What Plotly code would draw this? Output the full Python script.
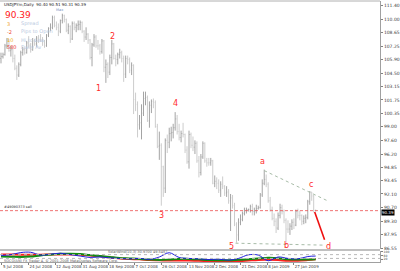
import plotly.graph_objects as go

# ---------------- data (USDJPYm, Daily) ----------------
dates = ["3 Jul", "4 Jul", "7 Jul", "8 Jul", "9 Jul", "10 Jul", "11 Jul", "14 Jul", "15 Jul", "16 Jul",
         "17 Jul", "18 Jul", "21 Jul", "22 Jul", "23 Jul", "24 Jul", "25 Jul", "28 Jul", "29 Jul", "30 Jul",
         "31 Jul", "1 Aug", "4 Aug", "5 Aug", "6 Aug", "7 Aug", "8 Aug", "11 Aug", "12 Aug", "13 Aug",
         "14 Aug", "15 Aug", "18 Aug", "19 Aug", "20 Aug", "21 Aug", "22 Aug", "25 Aug", "26 Aug", "27 Aug",
         "28 Aug", "29 Aug", "1 Sep", "2 Sep", "3 Sep", "4 Sep", "5 Sep", "8 Sep", "9 Sep", "10 Sep",
         "11 Sep", "12 Sep", "15 Sep", "16 Sep", "17 Sep", "18 Sep", "19 Sep", "22 Sep", "23 Sep", "24 Sep",
         "25 Sep", "26 Sep", "29 Sep", "30 Sep", "1 Oct", "2 Oct", "3 Oct", "6 Oct", "7 Oct", "8 Oct",
         "9 Oct", "10 Oct", "13 Oct", "14 Oct", "15 Oct", "16 Oct", "17 Oct", "20 Oct", "21 Oct", "22 Oct",
         "23 Oct", "24 Oct", "27 Oct", "28 Oct", "29 Oct", "30 Oct", "31 Oct", "3 Nov", "4 Nov", "5 Nov",
         "6 Nov", "7 Nov", "10 Nov", "11 Nov", "12 Nov", "13 Nov", "14 Nov", "17 Nov", "18 Nov", "19 Nov",
         "20 Nov", "21 Nov", "24 Nov", "25 Nov", "26 Nov", "27 Nov", "28 Nov", "1 Dec", "2 Dec", "3 Dec",
         "4 Dec", "5 Dec", "8 Dec", "9 Dec", "10 Dec", "11 Dec", "12 Dec", "15 Dec", "16 Dec", "17 Dec",
         "18 Dec", "19 Dec", "22 Dec", "23 Dec", "24 Dec", "25 Dec", "26 Dec", "29 Dec", "30 Dec", "31 Dec",
         "1 Jan", "2 Jan", "5 Jan", "6 Jan", "7 Jan", "8 Jan", "9 Jan", "12 Jan", "13 Jan", "14 Jan",
         "15 Jan", "16 Jan", "19 Jan", "20 Jan", "21 Jan", "22 Jan", "23 Jan", "26 Jan", "27 Jan", "28 Jan",
         "29 Jan", "30 Jan", "2 Feb", "3 Feb", "4 Feb", "5 Feb", "6 Feb", "9 Feb", "10 Feb", "11 Feb"]

opens = [106.0, 106.2, 106.4, 107.3, 107.9, 106.8, 106.9, 106.0, 105.0, 104.3,
         105.4, 106.6, 106.9, 106.6, 107.6, 107.4, 106.9, 107.8, 107.5, 108.1,
         108.0, 107.9, 107.7, 107.3, 108.4, 109.1, 109.2, 110.2, 109.4, 109.2,
         108.8, 109.9, 110.4, 110.0, 108.9, 109.3, 108.0, 109.6, 109.2, 109.4,
         109.5, 109.7, 108.8, 108.2, 108.5, 107.9, 106.1, 107.4, 108.2, 107.3,
         107.3, 106.7, 107.8, 105.1, 105.4, 104.6, 106.1, 107.5, 106.0, 105.9,
         106.4, 106.6, 106.0, 104.4, 106.0, 105.9, 104.8, 105.3, 101.8, 101.3,
         99.2, 99.4, 100.4, 101.9, 102.0, 99.6, 101.2, 101.6, 101.5, 99.0,
         97.0, 97.1, 94.9, 92.7, 97.6, 97.4, 98.3, 98.4, 98.9, 99.8,
         98.5, 97.9, 98.3, 98.2, 96.6, 95.4, 98.2, 97.1, 96.9, 97.3,
         95.5, 94.3, 95.9, 97.3, 95.5, 95.3, 95.3, 95.5, 93.2, 93.4,
         93.2, 92.5, 93.1, 92.9, 92.2, 92.3, 91.4, 91.7, 90.9, 89.0,
         87.9, 89.2, 89.5, 90.1, 90.4, 90.5, 90.5, 90.8, 90.3, 90.4,
         90.6, 90.7, 92.0, 93.2, 93.6, 93.1, 91.4, 90.5, 89.6, 89.3,
         88.6, 89.9, 90.7, 90.3, 89.4, 88.5, 88.5, 88.8, 89.2, 88.9,
         90.3, 89.9, 89.9, 89.3, 89.6, 89.7, 91.3, 92.3, 91.9, 90.40]

highs = [106.6, 106.6, 107.5, 108.1, 108.0, 107.3, 107.0, 106.4, 105.3, 105.6,
         106.8, 107.2, 107.1, 107.8, 108.3, 107.6, 108.1, 108.0, 108.3, 108.4,
         108.5, 108.2, 107.9, 108.5, 109.2, 109.6, 110.4, 110.4, 109.8, 109.6,
         110.0, 110.6, 110.5, 110.1, 109.6, 109.4, 109.8, 109.8, 109.6, 109.9,
         109.9, 109.8, 108.9, 109.2, 108.6, 108.0, 107.6, 108.5, 108.4, 107.9,
         107.5, 108.0, 107.9, 105.9, 105.6, 106.4, 107.9, 107.6, 106.4, 106.6,
         107.0, 106.8, 106.3, 106.3, 106.3, 106.1, 105.6, 105.4, 102.5, 101.6,
         100.2, 101.3, 102.6, 102.6, 102.2, 101.6, 101.8, 101.9, 101.7, 99.3,
         98.5, 97.3, 95.0, 97.8, 98.2, 98.9, 99.0, 99.3, 100.5, 100.2,
         99.3, 98.6, 99.4, 98.3, 97.0, 98.6, 98.4, 98.0, 97.6, 97.5,
         96.0, 96.2, 97.5, 97.4, 95.8, 95.8, 95.8, 95.6, 94.0, 93.8,
         93.6, 93.4, 93.9, 93.0, 92.9, 92.6, 92.1, 92.0, 91.2, 89.2,
         89.6, 90.0, 90.3, 90.7, 90.7, 90.6, 91.0, 91.1, 90.7, 91.0,
         90.9, 92.2, 93.6, 94.6, 94.1, 93.3, 91.8, 90.8, 90.1, 89.6,
         90.2, 91.1, 91.0, 90.5, 89.6, 89.4, 89.1, 89.5, 89.6, 90.5,
         90.6, 90.4, 90.0, 89.9, 90.0, 91.5, 92.4, 92.3, 92.0, 90.51]

lows = [105.5, 106.0, 106.3, 107.0, 106.7, 106.2, 105.6, 104.8, 103.8, 104.1,
        105.2, 106.3, 106.4, 106.5, 107.1, 106.6, 106.8, 107.3, 107.2, 107.6,
        107.7, 107.3, 107.1, 107.2, 108.2, 108.8, 109.0, 109.2, 108.9, 108.3,
        108.6, 109.6, 109.7, 108.7, 108.5, 107.6, 107.9, 108.9, 108.7, 108.9,
        108.9, 108.6, 107.7, 107.9, 107.5, 105.9, 105.2, 107.2, 107.1, 106.9,
        106.4, 106.5, 104.6, 103.5, 104.0, 104.3, 105.4, 105.9, 105.2, 105.4,
        106.0, 105.6, 103.6, 104.0, 105.4, 104.5, 104.3, 100.3, 100.6, 97.9,
        98.7, 97.7, 100.1, 101.2, 99.5, 98.9, 100.4, 100.9, 98.9, 96.8,
        95.6, 90.9, 91.8, 92.2, 96.3, 96.8, 97.5, 97.8, 98.6, 98.2,
        97.6, 97.4, 97.9, 96.3, 95.2, 94.7, 96.8, 96.5, 96.2, 95.3,
        93.8, 94.0, 95.7, 95.3, 94.9, 95.0, 95.0, 93.1, 92.8, 92.6,
        92.2, 91.8, 92.6, 91.9, 91.8, 91.1, 88.3, 90.6, 88.8, 87.1,
        87.3, 88.9, 89.3, 89.9, 90.1, 90.3, 90.2, 89.9, 89.9, 90.1,
        90.5, 90.6, 91.8, 93.0, 92.8, 91.2, 90.3, 89.4, 88.8, 88.1,
        88.4, 89.6, 90.0, 89.1, 87.1, 88.1, 87.9, 88.4, 88.5, 88.8,
        89.6, 89.4, 88.9, 89.0, 89.1, 89.5, 91.0, 91.4, 90.2, 90.31]

closes = [106.2, 106.4, 107.3, 107.9, 106.8, 106.9, 106.0, 105.0, 104.3, 105.4,
          106.6, 106.9, 106.6, 107.6, 107.4, 106.9, 107.8, 107.5, 108.1, 108.0,
          107.9, 107.7, 107.3, 108.4, 109.1, 109.2, 110.2, 109.4, 109.2, 108.8,
          109.9, 110.4, 110.0, 108.9, 109.3, 108.0, 109.6, 109.2, 109.4, 109.5,
          109.7, 108.8, 108.2, 108.5, 107.9, 106.1, 107.4, 108.2, 107.3, 107.3,
          106.7, 107.8, 105.1, 105.4, 104.6, 106.1, 107.5, 106.0, 105.9, 106.4,
          106.6, 106.0, 104.4, 106.0, 105.9, 104.8, 105.3, 101.8, 101.3, 99.2,
          99.4, 100.4, 101.9, 102.0, 99.6, 101.2, 101.6, 101.5, 99.0, 97.0,
          97.1, 94.9, 92.7, 97.6, 97.4, 98.3, 98.4, 98.9, 99.8, 98.5,
          97.9, 98.3, 98.2, 96.6, 95.4, 98.2, 97.1, 96.9, 97.3, 95.5,
          94.3, 95.9, 97.3, 95.5, 95.3, 95.3, 95.5, 93.2, 93.4, 93.2,
          92.5, 93.1, 92.9, 92.2, 92.3, 91.4, 91.7, 90.9, 89.0, 87.9,
          89.2, 89.5, 90.1, 90.4, 90.5, 90.5, 90.8, 90.3, 90.4, 90.6,
          90.7, 92.0, 93.2, 93.6, 93.1, 91.4, 90.5, 89.6, 89.3, 88.6,
          89.9, 90.7, 90.3, 89.4, 88.5, 88.5, 88.8, 89.2, 88.9, 90.3,
          89.9, 89.9, 89.3, 89.6, 89.7, 91.3, 92.3, 91.9, 90.40, 90.39]

current_price = 90.39

price_ticks = [111.40, 110.00, 108.65, 107.25, 105.90, 104.50, 103.15, 101.75, 100.35, 99.00,
               97.60, 96.20, 94.85, 93.45, 92.10, 90.70, 89.30, 87.95, 86.55]

date_labels = ["5 Jul 2008", "24 Jul 2008", "12 Aug 2008", "31 Aug 2008", "18 Sep 2008", "7 Oct 2008",
               "26 Oct 2008", "13 Nov 2008", "2 Dec 2008", "21 Dec 2008", "8 Jan 2009", "27 Jan 2009"]

# indicator (sub window), sampled every 5 bars
ind_bar = [0, 5, 10, 15, 20, 25, 30, 35, 40, 45, 50, 55, 60, 65, 70, 75, 80, 85, 90, 95,
           100, 105, 110, 115, 120, 125, 130, 135, 140, 145, 150, 155, 159]
ind_blue = [60, 70, 92, 95, 65, 75, 85, 70, 55, 40, 45, 35, 30, 25, 30, 20, 45, 90, 40, 30,
            25, 18, 22, 12, 30, 68, 65, 5, 45, 30, 25, 50, 55]
ind_green = [50, 48, 45, 50, 62, 70, 78, 80, 76, 65, 55, 45, 35, 30, 25, 18, 14, 18, 25, 25,
             20, 12, 10, 10, 15, 20, 28, 36, 32, 20, 18, 18, 22]
ind_red = [72, 72, 70, 70, 70, 72, 72, 72, 70, 62, 52, 40, 30, 24, 20, 12, 10, 8, 8, 7,
           4, 2, 0, 0, 2, 8, 14, 15, 12, 6, 5, 12, 20]

# Elliott wave labels: (text, bar position, price)
wave_text = ["1", "2", "3", "4", "5", "a", "b", "c", "d"]
wave_bar = [49.5, 56.5, 81, 88, 116.5, 132, 144.5, 156.5, 165.5]
wave_price = [102.95, 108.25, 89.9, 101.4, 86.75, 95.4, 86.85, 93.05, 86.75]

# drawn lines: (bar0, price0, bar1, price1)
upper_tl = [133, 94.5, 165.5, 91.35]
lower_tl = [118.5, 87.05, 163.5, 86.85]
arrow_ln = [158.5, 90.25, 163.5, 87.4]

# info block
info_vals = ["3", "-2", "10", "580"]
info_text = ["Spread", "Pips to Open", "Hi to Low", "Daily Av"]

# ---------------- figure ----------------
bars = list(range(len(closes)))
fig = go.Figure()

fig.add_trace(go.Ohlc(
    x=bars, open=opens, high=highs, low=lows, close=closes,
    increasing=dict(line=dict(color="#a4a4a4", width=1)),
    decreasing=dict(line=dict(color="#cccccc", width=1)),
    tickwidth=0.3, xaxis="x", yaxis="y", showlegend=False, hoverinfo="skip"))

for vals, col, w in [(ind_red, "#ff2020", 2), (ind_green, "#108a10", 2), (ind_blue, "#2020e0", 1)]:
    fig.add_trace(go.Scatter(x=ind_bar, y=vals, mode="lines", line=dict(color=col, width=w, shape="spline"),
                             xaxis="x", yaxis="y2", showlegend=False, hoverinfo="skip"))

n_lab = len(date_labels)
tick_pos = [0.5 + 13.4 * k for k in range(n_lab)]

fig.update_layout(
    width=400, height=271,
    margin=dict(l=0, r=16, t=0, b=9),
    paper_bgcolor="white", plot_bgcolor="white",
    font=dict(family="DejaVu Sans, Arial", color="#333333"),
    xaxis=dict(domain=[0, 1], range=[-0.5, 191.5], anchor="y2", rangeslider=dict(visible=False),
               showgrid=False, zeroline=False, showline=True, linecolor="#a0a0a0", linewidth=1,
               tickvals=tick_pos, ticktext=date_labels, ticks="outside", ticklen=2, tickcolor="#808080",
               tickangle=0, ticklabelposition="outside right", ticklabelstandoff=0,
               tickfont=dict(size=4, color="#404040")),
    yaxis=dict(domain=[13 / 262, 1], range=[86.45, 111.9], side="right", anchor="x",
               showgrid=False, zeroline=False, showline=True, linecolor="#a0a0a0", linewidth=1,
               tickvals=price_ticks, ticktext=["%.2f" % v for v in price_ticks],
               ticks="outside", ticklen=2, tickcolor="#808080",
               tickfont=dict(size=4.5, color="#404040")),
    yaxis2=dict(domain=[0, 11 / 262], range=[-8, 108], side="right", anchor="x",
                showgrid=False, zeroline=False, showline=True, linecolor="#a0a0a0", linewidth=1,
                tickvals=[100, 60, 20], ticktext=["100", "60", "20"], ticks="outside", ticklen=2,
                tickcolor="#808080", tickfont=dict(size=3, color="#404040")),
)

shapes = []
shapes.append(dict(type="line", xref="paper", yref="paper", x0=0, x1=1, y0=1, y1=1,
                   line=dict(color="#b0b0b0", width=1)))
shapes.append(dict(type="rect", xref="paper", yref="paper", x0=0, x1=1, y0=11 / 262, y1=13 / 262,
                   fillcolor="#c0c0c0", line=dict(width=0)))
for lvl in [70, 30]:
    shapes.append(dict(type="line", xref="paper", yref="y2", x0=0, x1=1, y0=lvl, y1=lvl,
                       line=dict(color="#b8b8b8", width=1, dash="dot")))
shapes.append(dict(type="line", xref="paper", yref="y", x0=0, x1=1, y0=current_price, y1=current_price,
                   line=dict(color="rgba(235,80,80,0.8)", width=1, dash="3px,2px")))
for ln in (upper_tl, lower_tl):
    shapes.append(dict(type="line", xref="x", yref="y", x0=ln[0], y0=ln[1], x1=ln[2], y1=ln[3],
                       line=dict(color="#a8bca8", width=1, dash="dot")))
shapes.append(dict(type="line", xref="x", yref="y", x0=arrow_ln[0], y0=arrow_ln[1], x1=arrow_ln[2], y1=arrow_ln[3],
                   line=dict(color="#ee1010", width=1.6)))
fig.update_layout(shapes=shapes)

ann = []
for t, b, p in zip(wave_text, wave_bar, wave_price):
    ann.append(dict(x=b, y=p, xref="x", yref="y", text=t, showarrow=False,
                    font=dict(size=8, color="#ff2a2a")))

ann.append(dict(x=0.005, y=1, xref="paper", yref="paper", xanchor="left", yanchor="top", yshift=1,
                text="USDJPYm,Daily  90.40 90.51 90.31 90.39", showarrow=False,
                font=dict(size=4, color="#202020")))
ann.append(dict(x=29.5, y=111.0, xref="x", yref="y", text="Max", showarrow=False,
                font=dict(size=3.5, color="#7090c0")))
ann.append(dict(x=0.008, y=110.5, xref="paper", yref="y", xanchor="left", text="%.2f" % current_price,
                showarrow=False, font=dict(size=9, color="#ff2020")))
info_cols = ["#f0a020", "#f05030", "#f0b020", "#e83030"]
info_y = [109.55, 108.75, 107.95, 107.15]
for v, c, t, yy in zip(info_vals, info_cols, info_text, info_y):
    ann.append(dict(x=0.012, y=yy, xref="paper", yref="y", xanchor="left", text=v, showarrow=False,
                    font=dict(size=5, color=c)))
    ann.append(dict(x=0.05, y=yy, xref="paper", yref="y", xanchor="left", text=t, showarrow=False,
                    font=dict(size=5, color="#b8c8e0")))

ann.append(dict(x=0.005, y=current_price, xref="paper", yref="y", xanchor="left", yanchor="bottom",
                text="#49090373 sell", showarrow=False, font=dict(size=3.5, color="#303030")))
ann.append(dict(x=1, y=current_price, xref="paper", yref="y", xanchor="left", xshift=1, yshift=-2,
                text="%.2f" % current_price, showarrow=False, bgcolor="#000000", borderpad=0,
                font=dict(size=4, color="#ffffff")))

ann.append(dict(x=0.005, y=5, xref="paper", yref="y2", xanchor="left",
                text="SOCO(AN) FX Trader 4, © 2001-2008 MetaQuotes Software Corp.", showarrow=False,
                font=dict(size=3.5, color="#606060")))
ann.append(dict(x=0.28, y=95, xref="paper", yref="y2", xanchor="left",
                text="SolarWind(10,3) 30.9700 49.5487", showarrow=False,
                font=dict(size=3.5, color="#606060")))
fig.update_layout(annotations=ann)

fig.write_html("out.html")
